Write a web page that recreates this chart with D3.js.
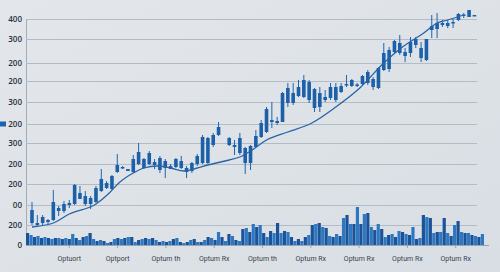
<!DOCTYPE html>
<html>
<head>
<meta charset="utf-8">
<script src="https://cdn.jsdelivr.net/npm/d3@7"></script>
<style>
    html, body { margin: 0; padding: 0; background: #dfe3e8; }
    svg { display: block; }
</style>
</head>
<body>
<div id="chart"></div>
<script>
// ---- data (price units = distance above baseline) ----
const yTickValues = [0, 20, 40, 61, 81, 102, 121, 143, 164, 182, 206, 226];
const yTickLabels = ["0", "200", "00", "200", "200", "300", "200", "300", "200", "200", "300", "400"];

const xLabels = ["Optuort", "Optport", "Optum th", "Optum Rx", "Optum th", "Optum Rx", "Optum Rx", "Optum Rx", "Optum Rx"];

// candles, one entry per session (null = no candle drawn)
const open = [22, 20, 22, 23, 25, 34, 34, 40, 41, 46, 41, 41, 43, 54, 57, 56, 73, 77, 74, 73,
    81, 77, 81, 80, 75, 77, 76, 78, 77, 73, 74, 81, 82, 82, 100, 110, null, 100, 98, 92,
    82, 82, 98, 108, 113, 123, 122, 123, 142, 142, 149, 148, 145, 137, 138, 145, 147, 145, 153, 160,
    159, 159.5, 161, 162, 158, 157, 175, 176, 193, 192, 189, 192, 200, 187, 185, 215, 216, 220, 219, 222,
    225, 229.5, 228, 229.5];
const close = [35, 22, 28, 25, 43, 37, 41, 42, 60, 52, 49, 47, 57, 66, 62, 69, 80, 78, 76, 86,
    93, 86, 92, 83, 87, 84, 79, 86, 84, 77, 82, 89, 108, 107, 110, 118, null, 107, 100, 107,
    97, 99, 109, 122, 136, 125, 124, 152, 157, 152, 158, 165, 163, 156, 152, 148, 158, 158, 159, 161,
    165, 160.5, 169, 173, 166, 177, 192, 195, 204, 202, 193, 203, 206, 197, 206, 219, 222, 222, 222, 223,
    231, 230.5, 235, 230];
const high = [43, 30, 30, 26, 55, 39, 44, 45, 61, 59, 54, 49, 59, 76, 64, 70, 91, 79, 76, 90,
    102, 87, 94, 86, 89, 86, 81, 87, 89, 79, 83, 91, 110, 108, 112, 123, null, 108, 105, 112,
    98, 100, 115, 125, 138, 143, 128, 153, 162, 162, 165, 170, 165, 157, 158, 155, 162, 162, 162, 170,
    166, 162, 170, 175, 168, 178, 202, 198, 205, 210, 197, 208, 208, 203, 206, 230, 232, 225, 225, 226,
    232, 232, 235, 230];
const low = [20, 18, 20, 21, 24, 29, 32, 37, 40, 46, 39, 36, 42, 53, 56, 55, 72, 76, 74, 72,
    80, 76, 80, 76, 72, 67, 76, 77, 76, 67, 72, 79, 81, 81, 98, 109, null, 99, 90, 90,
    71, 75, 98, 107, 112, 117, 120, 123, 138, 140, 148, 147, 142, 133, 133, 143, 145, 143, 152, 158,
    158, 158, 160, 160, 155, 156, 174, 173, 192, 190, 183, 188, 197, 183, 184, 207, 207, 218, 217, 217,
    224, 227, 228, 229.5];

// moving average, read at a few sessions
const maIndex = [0, 4, 7, 12, 14.5, 16.5, 19, 21, 23.5, 26, 28.5, 31, 33, 37, 39, 41, 44, 48, 52.5, 57, 61.5, 66, 69.5, 73.5, 76, 78, 81];
const maValue = [18, 22, 31, 41, 52, 63, 72, 77, 79, 77, 74, 77, 80, 85, 88, 94, 105, 113, 122, 138, 157, 182, 198, 212, 222, 225, 230];

// volume bars
const volume = [12, 10, 8, 9, 7, 8, 7, 6, 7, 7, 6, 7, 6, 11, 7, 5, 8, 9, 12, 6,
    4, 5, 4, 2, 3, 6, 7, 6, 7, 8, 8, 3, 5, 6, 7, 6, 7, 5, 3, 4,
    3, 4, 6, 7, 3, 2, 3, 5, 6, 3, 3, 5, 8, 7, 5, 13, 8, 4, 11, 9,
    5, 4, 16, 17, 13, 21, 18, 20, 12, 8, 14, 12, 22, 12, 14, 13, 8, 4, 6, 4,
    8, 10, 20, 21, 22, 18, 17, 9, 8, 11, 9, 27, 30, 21, 21, 38, 21, 31, 32, 18,
    15, 21, 16, 8, 10, 11, 8, 14, 13, 11, 10, 18, 6, 7, 30, 28, 27, 12, 13, 13,
    27, 12, 9, 20, 24, 13, 12, 12, 10, 9, 8, 11];

// ---- layout ----
const width = 500, height = 272;

const svg = d3.select("#chart")
    .append("svg")
    .attr("width", width)
    .attr("height", height);

const defs = svg.append("defs");
const bg = defs.append("linearGradient")
    .attr("id", "bg")
    .attr("x1", 0).attr("y1", 0).attr("x2", 1).attr("y2", 1);
bg.append("stop").attr("offset", "0%").attr("stop-color", "#e3e7eb");
bg.append("stop").attr("offset", "100%").attr("stop-color", "#d9dee4");

svg.append("rect")
    .attr("width", width)
    .attr("height", height)
    .attr("fill", "url(#bg)");

const y = d3.scaleLinear().domain([0, 226]).range([245, 19]);
const x = d3.scaleLinear().domain([0, 83]).range([32, 474.4]);
const xVol = d3.scaleBand().domain(d3.range(volume.length)).range([26, 484]).paddingInner(0.08);
const yVol = d3.scaleLinear().domain([0, 40]).range([245, 205]);
const xTick = d3.scaleLinear().domain([0, xLabels.length - 1]).range([69.3, 455.7]);

/* grid + y axis */
const yAxis = d3.axisLeft(y)
    .tickValues(yTickValues)
    .tickFormat((d, i) => yTickLabels[i])
    .tickSize(0)
    .tickPadding(4);

const gy = svg.append("g")
    .attr("transform", "translate(26,0)")
    .call(yAxis);
gy.select(".domain").attr("stroke", "#a4acb7");
gy.selectAll("text")
    .attr("fill", "#2a303b")
    .style("font-family", "'Open Sans', sans-serif")
    .style("font-weight", 600)
    .style("font-size", "8px");

svg.append("g")
    .selectAll("line")
    .data(yTickValues.filter(d => d > 0))
    .join("line")
    .attr("x1", 26)
    .attr("x2", 477)
    .attr("y1", d => y(d) + 0.5)
    .attr("y2", d => y(d) + 0.5)
    .attr("stroke", "#b3bbc6")
    .attr("stroke-width", 1);

// little blue marker by the "200" tick
svg.append("rect")
    .attr("x", 0)
    .attr("y", y(121) - 2.5)
    .attr("width", 6)
    .attr("height", 5)
    .attr("fill", "#1c63b0");

/* volume */
svg.append("g")
    .selectAll("rect")
    .data(volume)
    .join("rect")
    .attr("x", (d, i) => xVol(i))
    .attr("y", d => yVol(d))
    .attr("width", xVol.bandwidth())
    .attr("height", d => yVol(0) - yVol(d))
    .attr("fill", (d, i) => i % 2 ? "#2d78c2" : "#1c5298");

/* x axis */
const gx = svg.append("g").attr("transform", "translate(0,245)");
gx.append("line")
    .attr("x1", 26).attr("x2", 489)
    .attr("y1", 0.5).attr("y2", 0.5)
    .attr("stroke", "#9aa3af");
gx.selectAll(".tick")
    .data(xLabels)
    .join("g")
    .attr("class", "tick")
    .attr("transform", (d, i) => `translate(${xTick(i)},0)`)
    .call(g => g.append("line").attr("y1", 0).attr("y2", 3).attr("stroke", "#9aa3af"))
    .call(g => g.append("text")
        .attr("y", 15.5)
        .attr("text-anchor", "middle")
        .attr("fill", "#39414e")
        .style("font-family", "Roboto, sans-serif")
        .style("font-size", "7px")
        .text(d => d));

/* candles */
const candles = d3.range(open.length)
    .filter(i => open[i] != null)
    .map(i => ({ i, o: open[i], c: close[i], h: high[i], l: low[i] }));

const gc = svg.append("g");
gc.selectAll("line")
    .data(candles)
    .join("line")
    .attr("x1", d => x(d.i))
    .attr("x2", d => x(d.i))
    .attr("y1", d => y(d.h))
    .attr("y2", d => y(d.l))
    .attr("stroke", "#1f64ad")
    .attr("stroke-width", 1);

gc.selectAll("rect")
    .data(candles)
    .join("rect")
    .attr("x", d => x(d.i) - 1.8)
    .attr("width", 3.6)
    .attr("y", d => y(Math.max(d.o, d.c)))
    .attr("height", d => Math.max(1.5, Math.abs(y(d.o) - y(d.c))))
    .attr("fill", "#1c60aa");

/* moving average */
const ma = maIndex.map((d, k) => [d, maValue[k]]);
svg.append("path")
    .datum(ma)
    .attr("fill", "none")
    .attr("stroke", "#2764a8")
    .attr("stroke-width", 1.3)
    .attr("d", d3.line()
        .x(d => x(d[0]))
        .y(d => y(d[1]))
        .curve(d3.curveMonotoneX));
</script>
</body>
</html>
